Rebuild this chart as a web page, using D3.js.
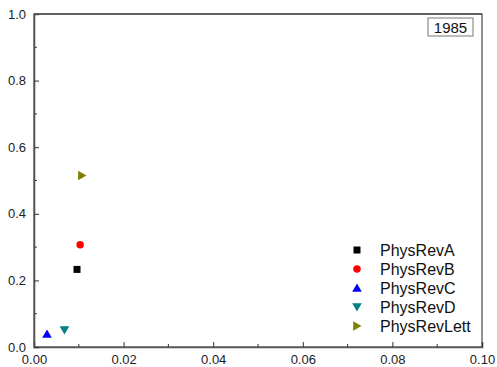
<!DOCTYPE html>
<html>
<head>
<meta charset="utf-8">
<script src="https://cdn.jsdelivr.net/npm/d3@7"></script>
<style>
  body { margin: 0; background: #fff; }
  svg { font-family: "Liberation Sans", Arial, sans-serif; }
</style>
</head>
<body>
<svg id="chart" width="497" height="367"></svg>
<script>
// data
var journals = ["PhysRevA", "PhysRevB", "PhysRevC", "PhysRevD", "PhysRevLett"];
var xValues = [0.0096, 0.0103, 0.0029, 0.0068, 0.0107];
var yValues = [0.233, 0.307, 0.039, 0.051, 0.515];
var colors = ["#000000", "#ff0000", "#0000ff", "#008080", "#808000"];
var shapes = ["square", "circle", "up", "down", "right"];
var xTicks = [0, 0.02, 0.04, 0.06, 0.08, 0.10];
var yTicks = [0, 0.2, 0.4, 0.6, 0.8, 1.0];
var yearLabel = "1985";

var svg = d3.select("#chart");
var margin = {top: 14, right: 15, bottom: 20, left: 34},
    width = 497 - margin.left - margin.right,
    height = 367 - margin.top - margin.bottom;

var x = d3.scaleLinear().domain([0, 0.1]).range([0, width]);
var y = d3.scaleLinear().domain([0, 1]).range([height, 0]);

var g = svg.append("g")
    .attr("transform", "translate(" + margin.left + "," + margin.top + ")");

// frame
g.append("rect")
    .attr("width", width).attr("height", height)
    .attr("fill", "none").attr("stroke", "#222").attr("stroke-width", 1);

// minor ticks
var xMinor = d3.range(0.01, 0.1, 0.02);
var yMinor = d3.range(0.1, 1, 0.2);
g.selectAll(".xminor").data(xMinor).enter().append("line")
    .attr("x1", function(d) { return x(d); }).attr("x2", function(d) { return x(d); })
    .attr("y1", height).attr("y2", height - 3)
    .attr("stroke", "#333");
g.selectAll(".yminor").data(yMinor).enter().append("line")
    .attr("y1", function(d) { return y(d); }).attr("y2", function(d) { return y(d); })
    .attr("x1", 0).attr("x2", 3)
    .attr("stroke", "#333");

// axes (ticks inward)
var xAxis = d3.axisBottom(x).tickValues(xTicks).tickSize(-5).tickPadding(8)
    .tickFormat(d3.format(".2f"));
var yAxis = d3.axisLeft(y).tickValues(yTicks).tickSize(-5).tickPadding(8)
    .tickFormat(d3.format(".1f"));

var gX = g.append("g").attr("transform", "translate(0," + height + ")").call(xAxis);
var gY = g.append("g").call(yAxis);
[gX, gY].forEach(function(a) {
    a.select(".domain").attr("stroke", "#555").attr("stroke-width", 1.6);
    a.selectAll(".tick line").attr("stroke", "#333");
    a.selectAll(".tick text").attr("fill", "#222").style("font-size", "13px")
        .style("font-family", "Liberation Sans, Arial, sans-serif");
});
// top edge in gray too
g.append("line").attr("x1", 0).attr("x2", width).attr("y1", 0).attr("y2", 0)
    .attr("stroke", "#555").attr("stroke-width", 1.6);

function symbolPath(shape) {
    if (shape === "square") return "M-3.5,-3.5H3.5V3.5H-3.5Z";
    if (shape === "circle") return d3.symbol(d3.symbolCircle, 44)();
    if (shape === "up") return "M0,-4.5L4.8,3.8H-4.8Z";
    if (shape === "down") return "M0,4.5L4.8,-3.8H-4.8Z";
    return "M4.5,0L-3.8,4.8V-4.8Z";
}

var pts = journals.map(function(j, i) {
    return {name: j, x: xValues[i], y: yValues[i], color: colors[i], shape: shapes[i]};
});

g.selectAll(".pt").data(pts).enter().append("path")
    .attr("class", "pt")
    .attr("d", function(d) { return symbolPath(d.shape); })
    .attr("transform", function(d) { return "translate(" + x(d.x) + "," + y(d.y) + ")"; })
    .attr("fill", function(d) { return d.color; });

// legend
var legend = g.append("g").attr("transform", "translate(" + (357 - margin.left) + "," + (250 - margin.top) + ")");
var items = legend.selectAll(".item").data(pts).enter().append("g")
    .attr("transform", function(d, i) { return "translate(0," + (i * 19) + ")"; });
items.append("path")
    .attr("d", function(d) { return symbolPath(d.shape); })
    .attr("fill", function(d) { return d.color; });
items.append("text")
    .attr("x", 23).attr("dy", "0.36em")
    .style("font-size", "16px").attr("fill", "#111")
    .text(function(d) { return d.name; });

// year box
var yb = g.append("g").attr("transform", "translate(" + (428 - margin.left) + "," + (18 - margin.top) + ")");
yb.append("rect").attr("width", 45).attr("height", 18)
    .attr("fill", "#fff").attr("stroke", "#777").attr("stroke-width", 1);
yb.append("text").attr("x", 22.5).attr("y", 9.5).attr("dy", "0.36em")
    .attr("text-anchor", "middle").style("font-size", "15px").attr("fill", "#111")
    .text(yearLabel);
</script>
</body>
</html>
